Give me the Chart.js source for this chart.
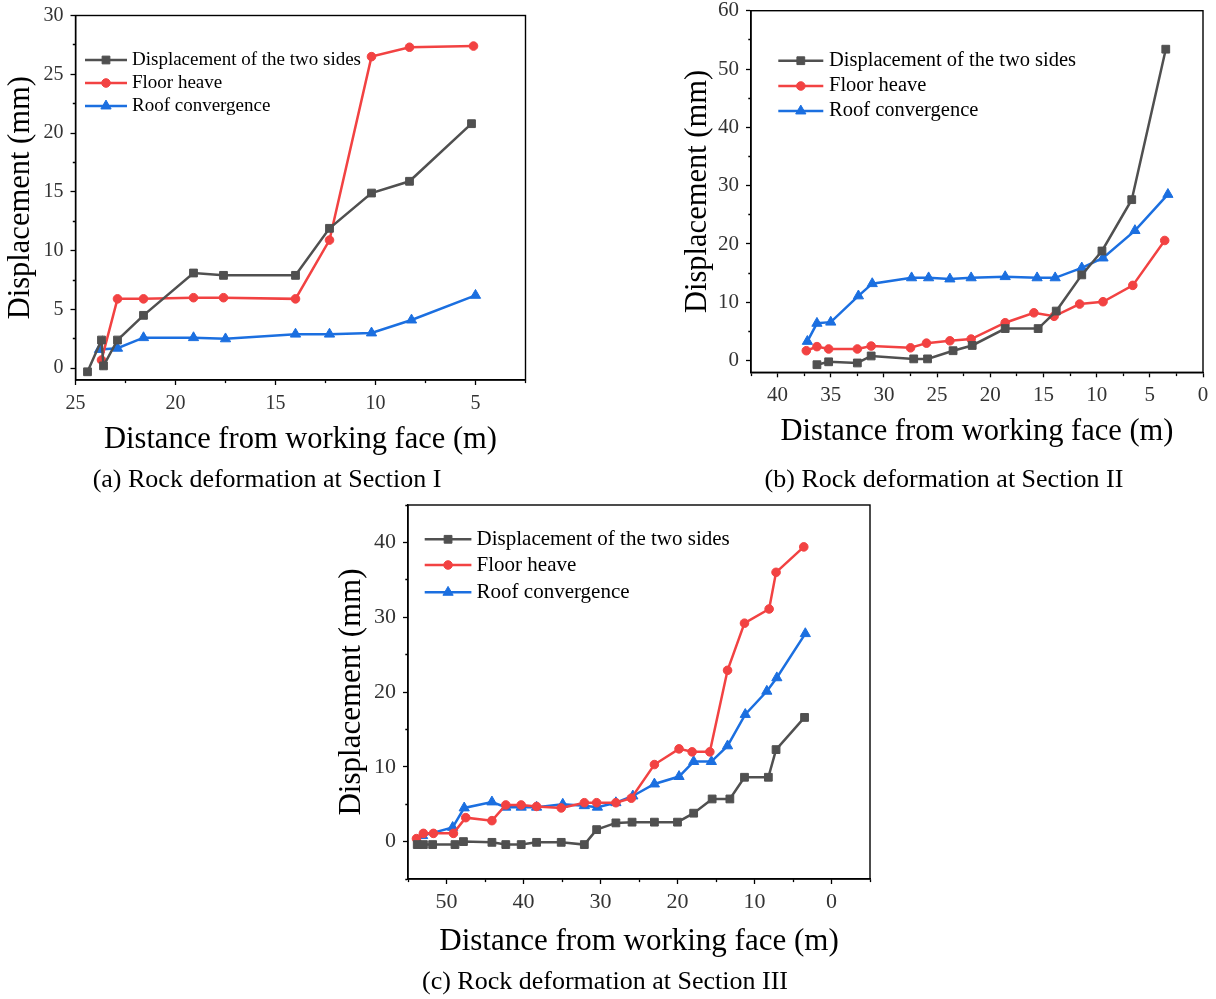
<!DOCTYPE html>
<html>
<head>
<meta charset="utf-8">
<title>Rock deformation</title>
<script src="https://cdn.jsdelivr.net/npm/chart.js@4.4.1/dist/chart.umd.min.js"></script>
<style>
  body { margin: 0; background: #fff; }
  #page { position: relative; width: 1216px; height: 999px; background: #fff; overflow: hidden; }
  #page canvas { position: absolute; }
  .caption {
    position: absolute;
    font-family: 'Liberation Serif', 'Times New Roman', serif;
    font-size: 26px;
    line-height: 26px;
    white-space: nowrap;
    color: #000;
    transform: translateX(-50%);
  }
</style>
</head>
<body>
<div id="page">
  <canvas id="chartA" width="545" height="465" style="left:0px;top:0px"></canvas>
  <canvas id="chartB" width="536" height="465" style="left:680px;top:0px"></canvas>
  <canvas id="chartC" width="560" height="475" style="left:330px;top:495px"></canvas>
  <div class="caption" style="left:267px;top:466px">(a) Rock deformation at Section I</div>
  <div class="caption" style="left:944px;top:466px">(b) Rock deformation at Section II</div>
  <div class="caption" style="left:605px;top:968px">(c) Rock deformation at Section III</div>
</div>

<script>
// series names
const seriesNames = ['Displacement of the two sides', 'Floor heave', 'Roof convergence'];

// Section I
const sidesA_x = [24.4, 23.7, 23.6, 22.9, 21.6, 19.1, 17.6, 14.0, 12.3, 10.2, 8.3, 5.2];
const sidesA_y = [-0.3, 2.4, 0.2, 2.4, 4.5, 8.1, 7.9, 7.9, 11.9, 14.9, 15.9, 20.8];
const floorA_x = [23.7, 22.9, 21.6, 19.1, 17.6, 14.0, 12.3, 10.2, 8.3, 5.1];
const floorA_y = [0.7, 5.9, 5.9, 6.0, 6.0, 5.9, 10.9, 26.5, 27.3, 27.4];
const roofA_x = [23.8, 22.9, 21.6, 19.1, 17.5, 14.0, 12.3, 10.2, 8.2, 5.0];
const roofA_y = [1.6, 1.7, 2.6, 2.6, 2.5, 2.9, 2.9, 3.0, 4.1, 6.2];

// Section II
const sidesB_x = [36.3, 35.2, 32.5, 31.2, 27.2, 25.9, 23.5, 21.7, 18.6, 15.5, 13.8, 11.4, 9.5, 6.7, 3.5];
const sidesB_y = [-0.7, -0.2, -0.4, 0.8, 0.3, 0.3, 1.7, 2.6, 5.5, 5.5, 8.5, 14.7, 18.8, 27.6, 53.4];
const floorB_x = [37.3, 36.3, 35.2, 32.5, 31.2, 27.5, 26.0, 23.8, 21.8, 18.6, 15.9, 14.0, 11.6, 9.4, 6.6, 3.6];
const floorB_y = [1.7, 2.4, 2.0, 2.0, 2.5, 2.2, 3.0, 3.4, 3.7, 6.5, 8.2, 7.6, 9.7, 10.1, 12.9, 20.6];
const roofB_x = [37.2, 36.3, 35.0, 32.4, 31.1, 27.4, 25.8, 23.8, 21.8, 18.6, 15.6, 13.9, 11.4, 9.4, 6.4, 3.3];
const roofB_y = [3.3, 6.4, 6.6, 11.1, 13.2, 14.2, 14.2, 14.0, 14.2, 14.4, 14.2, 14.2, 15.9, 17.6, 22.3, 28.5];

// Section III
const sidesC_x = [53.8, 53.0, 51.8, 48.9, 47.8, 44.1, 42.3, 40.3, 38.3, 35.1, 32.1, 30.5, 28.0, 25.9, 23.0, 20.0, 17.9, 15.5, 13.2, 11.3, 8.2, 7.2, 3.5];
const sidesC_y = [-0.4, -0.4, -0.4, -0.4, 0.0, -0.1, -0.4, -0.4, -0.1, -0.1, -0.4, 1.6, 2.5, 2.6, 2.6, 2.6, 3.8, 5.7, 5.7, 8.6, 8.6, 12.3, 16.6];
const floorC_x = [53.9, 53.0, 51.7, 49.1, 47.5, 44.1, 42.3, 40.3, 38.3, 35.1, 32.1, 30.5, 28.0, 26.0, 23.0, 19.8, 18.1, 15.8, 13.5, 11.3, 8.1, 7.2, 3.6];
const floorC_y = [0.4, 1.1, 1.1, 1.1, 3.2, 2.8, 4.9, 4.9, 4.7, 4.5, 5.2, 5.2, 5.2, 5.8, 10.3, 12.4, 12.0, 12.0, 22.9, 29.2, 31.1, 36.0, 39.4];
const roofC_x = [53.1, 49.2, 47.7, 44.1, 42.3, 40.3, 38.3, 34.9, 32.1, 30.4, 28.0, 25.8, 23.0, 19.8, 17.9, 15.6, 13.5, 11.2, 8.4, 7.1, 3.4];
const roofC_y = [0.8, 1.9, 4.5, 5.3, 4.6, 4.6, 4.6, 5.0, 4.8, 4.6, 5.2, 6.1, 7.7, 8.7, 10.7, 10.7, 12.8, 17.0, 20.1, 21.9, 27.8];

// axis ranges / tick steps [minor, major]
const xRangeA = [2.5, 25], xStepA = [2.5, 5];
const yRangeA = [-1, 30], yStepA = [2.5, 5];
const xRangeB = [0, 42.5], xStepB = [2.5, 5];
const yRangeB = [-2, 60], yStepB = [5, 10];
const xRangeC = [-5, 55], xStepC = [5, 10];
const yRangeC = [-5, 45], yStepC = [5, 10];

Chart.defaults.font.family = "'Liberation Serif', 'Times New Roman', serif";
Chart.defaults.color = '#000';

const colors = ['#505050', '#f24242', '#1b6fe0'];
const markers = ['rect', 'circle', 'triangle'];
const markerSize = [5.5, 4.3, 5.9];

function toPoints(xs, ys) {
    return xs.map((x, i) => ({ x: x, y: ys[i] }));
}

function isMajor(v, major) {
    const q = v / major;
    return Math.abs(q - Math.round(q)) < 1e-6;
}

// frame around the plot
const framePlugin = {
    id: 'frame',
    afterDraw(chart) {
        const a = chart.chartArea;
        const ctx = chart.ctx;
        ctx.save();
        ctx.strokeStyle = '#000';
        ctx.lineWidth = 1.4;
        ctx.strokeRect(a.left, a.top, a.right - a.left, a.bottom - a.top);
        ctx.restore();
    }
};

// legend drawn inside the plot area
const insideLegend = {
    id: 'insideLegend',
    afterDraw(chart, args, opts) {
        const ctx = chart.ctx;
        ctx.save();
        chart.data.datasets.forEach((ds, i) => {
            const y = opts.rows[i];
            ctx.strokeStyle = ds.borderColor;
            ctx.lineWidth = ds.borderWidth;
            ctx.beginPath();
            ctx.moveTo(opts.x1, y);
            ctx.lineTo(opts.x2, y);
            ctx.stroke();
            ctx.fillStyle = ds.borderColor;
            ctx.lineWidth = 1;
            Chart.helpers.drawPoint(ctx, { pointStyle: ds.pointStyle, radius: ds.pointRadius, rotation: 0, borderWidth: 1 }, (opts.x1 + opts.x2) / 2, y);
            ctx.fillStyle = '#000';
            ctx.font = opts.size + "px 'Liberation Serif', 'Times New Roman', serif";
            ctx.textBaseline = 'middle';
            ctx.textAlign = 'left';
            ctx.fillText(ds.label, opts.textX, y);
        });
        ctx.restore();
    }
};

function makeDatasets(xsList, ysList) {
    return seriesNames.map((name, i) => ({
        label: name,
        data: toPoints(xsList[i], ysList[i]),
        borderColor: colors[i],
        backgroundColor: colors[i],
        pointBackgroundColor: colors[i],
        pointBorderColor: colors[i],
        borderWidth: 2.5,
        pointStyle: markers[i],
        pointRadius: markerSize[i],
        pointBorderWidth: 1,
        tension: 0,
        fill: false
    }));
}

function makeConfig(datasets, lay) {
    const W = lay.w, H = lay.h, area = lay.area;
    return {
        type: 'line',
        data: { datasets: datasets },
        options: {
            responsive: false,
            animation: false,
            devicePixelRatio: 1,
            layout: { padding: { left: 0, top: area.top, right: W - area.right, bottom: 0 } },
            plugins: {
                legend: { display: false },
                tooltip: { enabled: false },
                insideLegend: lay.legend
            },
            scales: {
                x: {
                    type: 'linear',
                    reverse: true,
                    min: lay.xRange[0],
                    max: lay.xRange[1],
                    border: { display: true, color: '#000', width: 1.4 },
                    grid: {
                        drawOnChartArea: false,
                        tickLength: 5,
                        tickWidth: 1.3,
                        tickColor: '#000',
                        tickBorderDash: c => isMajor(c.tick.value, lay.xStep[1]) ? [] : [2.7, 20]
                    },
                    ticks: {
                        stepSize: lay.xStep[0],
                        autoSkip: false,
                        maxRotation: 0,
                        includeBounds: false,
                        padding: lay.xTickPad,
                        color: '#333',
                        font: { size: lay.tickSize },
                        callback: v => isMajor(v, lay.xStep[1]) ? String(Math.round(v)) : ''
                    },
                    title: {
                        display: true,
                        text: 'Distance from working face (m)',
                        color: '#000',
                        font: { size: lay.titleSize },
                        padding: { top: 0, bottom: lay.xTitlePad }
                    },
                    afterFit: s => { s.height = H - area.bottom; s.paddingLeft = 0; s.paddingRight = 0; }
                },
                y: {
                    type: 'linear',
                    min: lay.yRange[0],
                    max: lay.yRange[1],
                    border: { display: true, color: '#000', width: 1.4 },
                    grid: {
                        drawOnChartArea: false,
                        tickLength: 5,
                        tickWidth: 1.3,
                        tickColor: '#000',
                        tickBorderDash: c => isMajor(c.tick.value, lay.yStep[1]) ? [] : [0, 2.3, 2.7, 20]
                    },
                    ticks: {
                        stepSize: lay.yStep[0],
                        autoSkip: false,
                        includeBounds: false,
                        padding: 7,
                        color: '#333',
                        font: { size: lay.tickSize },
                        callback: v => isMajor(v, lay.yStep[1]) ? String(Math.round(v)) : ''
                    },
                    title: {
                        display: true,
                        text: 'Displacement (mm)',
                        color: '#000',
                        font: { size: lay.titleSize },
                        padding: { top: lay.yTitlePad, bottom: 0 }
                    },
                    afterFit: s => { s.width = area.left; s.paddingTop = 0; s.paddingBottom = 0; }
                }
            }
        },
        plugins: [framePlugin, insideLegend]
    };
}

const configA = makeConfig(
    makeDatasets([sidesA_x, floorA_x, roofA_x], [sidesA_y, floorA_y, roofA_y]),
    {
        w: 545, h: 465, area: { left: 75.5, top: 15.5, right: 525.5, bottom: 380 },
        xRange: xRangeA, xStep: xStepA, yRange: yRangeA, yStep: yStepA,
        tickSize: 20, titleSize: 30.5, xTickPad: 6.7, xTitlePad: 7, yTitlePad: 3,
        legend: { x1: 85, x2: 127, textX: 132, rows: [60, 83, 106], size: 19 }
    }
);

const configB = makeConfig(
    makeDatasets([sidesB_x, floorB_x, roofB_x], [sidesB_y, floorB_y, roofB_y]),
    {
        w: 536, h: 465, area: { left: 71, top: 10.7, right: 523, bottom: 372.3 },
        xRange: xRangeB, xStep: xStepB, yRange: yRangeB, yStep: yStepB,
        tickSize: 21, titleSize: 30.5, xTickPad: 5.8, xTitlePad: 15, yTitlePad: 0,
        legend: { x1: 98.3, x2: 143.3, textX: 149, rows: [60.7, 86, 111], size: 20.5 }
    }
);

const configC = makeConfig(
    makeDatasets([sidesC_x, floorC_x, roofC_x], [sidesC_y, floorC_y, roofC_y]),
    {
        w: 560, h: 475, area: { left: 78, top: 10, right: 540, bottom: 384 },
        xRange: xRangeC, xStep: xStepC, yRange: yRangeC, yStep: yStepC,
        tickSize: 22, titleSize: 31, xTickPad: 4.8, xTitlePad: 9.4, yTitlePad: 3.4,
        legend: { x1: 94.7, x2: 141.4, textX: 146.6, rows: [44.3, 70, 97.3], size: 21 }
    }
);

document.addEventListener('DOMContentLoaded', function () {
    new Chart(document.getElementById('chartA').getContext('2d'), configA);
    new Chart(document.getElementById('chartB').getContext('2d'), configB);
    new Chart(document.getElementById('chartC').getContext('2d'), configC);
});
</script>
</body>
</html>
